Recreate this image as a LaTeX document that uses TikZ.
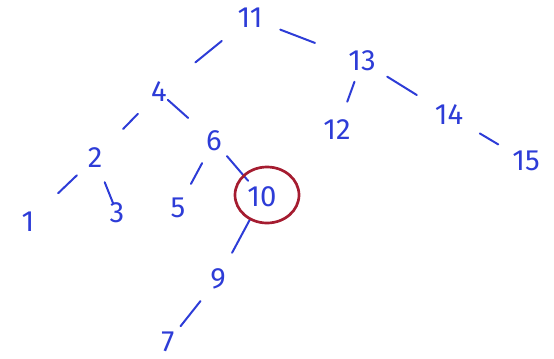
\documentclass[tikz,border=0pt]{standalone}
\usepackage{fontspec}
\newfontfamily\handfont{Fira Sans}
\usetikzlibrary{calc}
\definecolor{pen}{RGB}{45,60,215}
\definecolor{redpen}{RGB}{165,28,48}
\tikzset{
  key/.style={text=pen, font=\handfont\fontsize{25}{25}\selectfont, inner sep=0pt},
  branch/.style={draw=pen, line width=1.7pt, line cap=round},
  mark10/.style={draw=redpen, line width=2.3pt},
}

\begin{document}
\begin{tikzpicture}[x=0.03cm,y=-0.03cm]
\useasboundingbox (0,0) rectangle (554,358);
% keys
\node[key] (n11) at (250,18) {11};
\node[key] (n13) at (362,61) {13};
\node[key] (n4) at (159,92) {4};
\node[key] (n12) at (337,130) {12};
\node[key] (n14) at (449,115) {14};
\node[key] (n15) at (526,161) {15};
\node[key] (n6) at (214,141) {6};
\node[key] (n2) at (95,158) {2};
\node[key] (n1) at (28,222) {1};
\node[key] (n3) at (117,213) {3};
\node[key] (n5) at (178,208) {5};
\node[key] (n10) at (262,197) {10};
\node[key] (n9) at (218,279) {9};
\node[key] (n7) at (168,342) {7};
% branches
\draw[branch] ($(n11)!0.31!(n4)$) -- ($(n11)!0.60!(n4)$);
\draw[branch] ($(n11)!0.27!(n13)$) -- ($(n11)!0.58!(n13)$);
\draw[branch] ($(n13)!0.30!(n12)$) -- ($(n13)!0.59!(n12)$);
\draw[branch] ($(n13)!0.29!(n14)$) -- ($(n13)!0.63!(n14)$);
\draw[branch] ($(n14)!0.40!(n15)$) -- ($(n14)!0.64!(n15)$);
\draw[branch] ($(n4)!0.33!(n2)$) -- ($(n4)!0.56!(n2)$);
\draw[branch] ($(n4)!0.16!(n6)$) -- ($(n4)!0.53!(n6)$);
\draw[branch] ($(n2)!0.27!(n1)$) -- ($(n2)!0.55!(n1)$);
\draw[branch] ($(n2)!0.44!(n3)$) -- ($(n2)!0.82!(n3)$);
\draw[branch] ($(n6)!0.33!(n5)$) -- ($(n6)!0.64!(n5)$);
\draw[branch] ($(n6)!0.27!(n10)$) -- ($(n6)!0.71!(n10)$);
\draw[branch] ($(n10)!0.27!(n9)$) -- ($(n10)!0.68!(n9)$);
\draw[branch] ($(n9)!0.35!(n7)$) -- ($(n9)!0.75!(n7)$);
% the red ring round 10
\draw[mark10] ($(n10)+(5,-2)$) ellipse (32 and 28);
\end{tikzpicture}
\end{document}
